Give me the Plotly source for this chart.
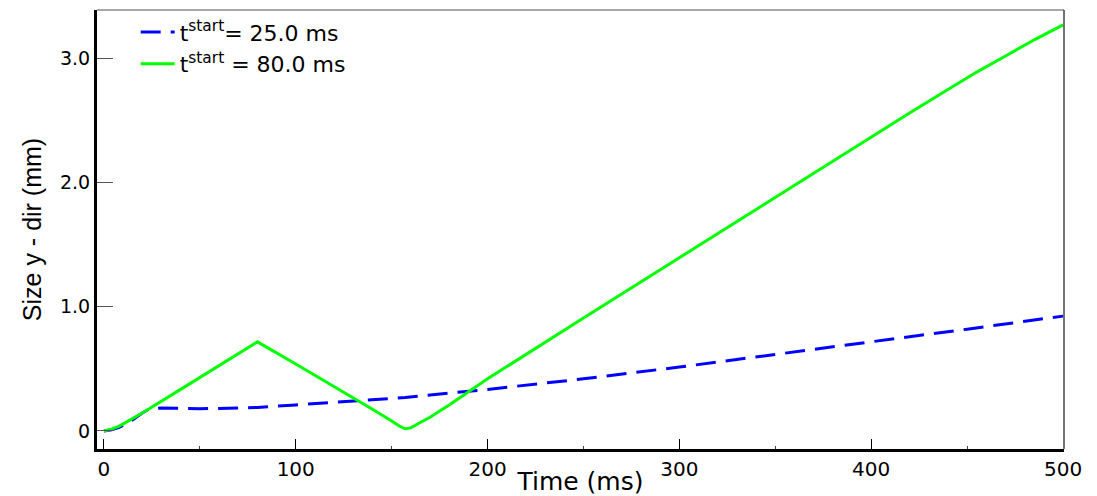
import plotly.graph_objects as go

# time samples (ms) and measured sizes (mm)
t_green = [0, 4, 8, 12, 16, 20, 40, 60, 80, 100, 120, 140, 150, 154, 157, 160, 164, 170, 180, 200,
           250, 300, 350, 400, 420, 440, 455, 470, 485, 500]
size_green = [0.0, 0.015, 0.04, 0.075, 0.11, 0.145, 0.335, 0.525, 0.718, 0.54, 0.36, 0.175, 0.08, 0.04,
              0.018, 0.025, 0.06, 0.11, 0.21, 0.42, 0.91, 1.395, 1.88, 2.37, 2.56, 2.75, 2.89, 3.02, 3.15, 3.27]

t_blue = [0, 4, 8, 12, 16, 20, 24, 30, 40, 50, 65, 80, 100, 130, 157, 200, 250, 300, 350, 400, 450, 500]
size_blue = [0.0, 0.01, 0.03, 0.06, 0.10, 0.145, 0.18, 0.185, 0.183, 0.18, 0.183, 0.19, 0.21, 0.24, 0.27,
             0.335, 0.42, 0.515, 0.615, 0.72, 0.82, 0.925]

x_ticks = [0, 100, 200, 300, 400, 500]
x_minor = [50, 150, 250, 350, 450]
y_ticks = [0, 1, 2, 3]
y_tick_text = ["0", "1.0", "2.0", "3.0"]

fig = go.Figure()
fig.add_trace(go.Scatter(
    x=t_blue, y=size_blue, mode="lines",
    name="t<sup>start</sup>= 25.0 ms",
    line=dict(color="#0000ff", width=3, dash="20px,10px"),
))
fig.add_trace(go.Scatter(
    x=t_green, y=size_green, mode="lines",
    name="t<sup>start</sup> = 80.0 ms",
    line=dict(color="#00ff00", width=3),
))

wide = "DejaVu Sans, Verdana, sans-serif"
plain = "Liberation Sans, Arial, sans-serif"
fig.update_layout(
    width=1097, height=496,
    margin=dict(l=97, r=33, t=10, b=47),
    plot_bgcolor="white", paper_bgcolor="white",
    showlegend=True,
    legend=dict(x=0.040, y=0.997, xanchor="left", yanchor="top",
                font=dict(family=wide, size=22, color="black"),
                bgcolor="rgba(0,0,0,0)", tracegroupgap=0, itemwidth=34),
    xaxis=dict(
        range=[-3.6, 500.5], tickvals=x_ticks, ticks="inside", ticklen=10,
        tickcolor="black", tickwidth=1,
        minor=dict(tickvals=x_minor, ticks="inside", ticklen=3, tickcolor="#444444"),
        showline=True, linecolor="black", linewidth=3, showgrid=False, zeroline=False,
        tickfont=dict(family=wide, size=20, color="black"),
        automargin=False,
        title=dict(text="Time (ms)", font=dict(family=wide, size=25, color="black"), standoff=0),
    ),
    yaxis=dict(
        range=[-0.145, 3.39], tickvals=y_ticks, ticktext=y_tick_text, ticks="inside", ticklen=16,
        tickcolor="#555555", tickwidth=1,
        showline=True, linecolor="black", linewidth=3, showgrid=False, zeroline=False,
        tickfont=dict(family=wide, size=19, color="black"),
        automargin=False,
        title=dict(text="Size y - dir (mm)", font=dict(family=plain, size=25, color="black"), standoff=12),
    ),
)

# thin frame on the top and right edges
fig.add_shape(type="line", xref="paper", yref="paper", x0=0, x1=1, y0=1, y1=1,
              line=dict(color="#888888", width=1.5))
fig.add_shape(type="line", xref="paper", yref="paper", x0=1, x1=1, y0=0, y1=1,
              line=dict(color="#444444", width=1.5))

fig.write_html("out.html")
